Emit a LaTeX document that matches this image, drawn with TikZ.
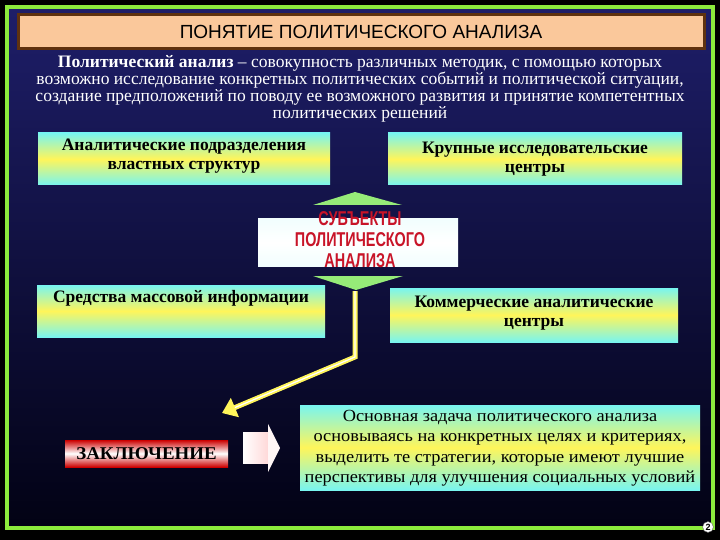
\documentclass[tikz,border=0pt]{standalone}
\usepackage{fontspec}
\setmainfont{Liberation Serif}
\newfontfamily\sansf{Liberation Sans}
\usetikzlibrary{shapes.arrows,arrows.meta,calc}
\definecolor{navytop}{RGB}{30,30,105}
\definecolor{navybot}{RGB}{2,2,20}
\definecolor{lime}{RGB}{140,235,60}
\definecolor{peach}{RGB}{250,200,155}
\definecolor{brownb}{RGB}{95,50,15}
\definecolor{cyanl}{RGB}{120,245,240}
\definecolor{yel}{RGB}{255,245,90}
\definecolor{greenar}{RGB}{150,235,120}
\definecolor{redt}{RGB}{200,20,40}
\tikzset{
  gbox/.style={top color=cyanl,bottom color=cyanl,middle color=yel,draw=none},
  btxt/.style={font=\fontsize{17.5}{19}\selectfont\bfseries,align=center,text=black},
  wtxt/.style={font=\fontsize{17.5}{17}\selectfont,align=center,text=white},
}
\begin{document}
\begin{tikzpicture}[x=1pt,y=-1pt]
\useasboundingbox (0,0) rectangle (720,540);
\fill[black] (0,0) rectangle (720,540);
\shade[top color=navytop,bottom color=navybot] (7,7) rectangle (713,528);
\draw[lime,line width=4] (7,7) rectangle (713,528);
% title
\node[fill=peach,draw=brownb,line width=3,minimum width=686,minimum height=34,
  font=\sansf\fontsize{19}{20}\selectfont] (title) at (361,32) {ПОНЯТИЕ ПОЛИТИЧЕСКОГО АНАЛИЗА};
\node[wtxt] (def) at (360,89) {\textbf{Политический анализ} – совокупность различных методик, с помощью которых\\
возможно исследование конкретных политических событий и политической ситуации,\\
создание предположений по поводу ее возможного развития и принятие компетентных\\
политических решений};
% boxes
\shade[gbox] (38,133) rectangle (330,185);
\node[btxt] (b1) at (184,156) {Аналитические подразделения\\властных структур};
\shade[gbox] (388,133) rectangle (682,185);
\node[btxt] (b2) at (535,159) {Крупные исследовательские\\центры};
\shade[gbox] (37,285) rectangle (325,337);
\node[btxt,anchor=north] (b3) at (181,287) {Средства массовой информации};
\shade[gbox] (390,288) rectangle (678,342);
\node[btxt] (b4) at (534,313) {Коммерческие аналитические\\центры};
% centre
\fill[greenar] (313,205) -- (355,192) -- (402,205) -- cycle;
\fill[greenar] (313,276) -- (403,276) -- (356,290) -- cycle;
\shade[top color=white!90!cyanl,bottom color=white!90!cyanl,middle color=white] (258,219) rectangle (458,266);
\node[font=\sansf\bfseries\fontsize{20}{21}\selectfont,align=center,text=redt,xscale=0.72] (subj) at (360,240) {СУБЪЕКТЫ\\ПОЛИТИЧЕСКОГО\\АНАЛИЗА};
% yellow connector
\coordinate (c0) at (355,291);
\coordinate (c1) at (355,357);
\coordinate (c2) at (222,413);
\draw[line width=5,yel,-{Triangle[length=14,width=20]}] (c0) -- (c1) -- (c2);
\draw[line width=1.2,white] (c0) -- (c1) -- ($(c2)!14pt!(c1)$);
% conclusion
\shade[top color=red!80!black,bottom color=red!80!black,middle color=white] (65,440) rectangle (228,467);
\node[font=\fontsize{18}{18}\selectfont\bfseries,xscale=1.05] (concl) at (146.5,454) {ЗАКЛЮЧЕНИЕ};
\shade[left color=white,right color=pink!60] (243,432) rectangle (268,463);
\fill[white!85!pink] (268,424) -- (280,448) -- (268,472) -- cycle;
\shade[gbox] (300,405) rectangle (700,490);
\node[font=\fontsize{17}{20.5}\selectfont,align=center,xscale=1.08] (task) at (500,448) {Основная задача политического анализа\\основываясь на конкретных целях и критериях,\\выделить те стратегии, которые имеют лучшие\\перспективы для улучшения социальных условий};
\node[circle,fill=white,draw=black!60,inner sep=1pt,font=\sansf\bfseries\small] (pg) at (708,527) {2};
\end{tikzpicture}
\end{document}
